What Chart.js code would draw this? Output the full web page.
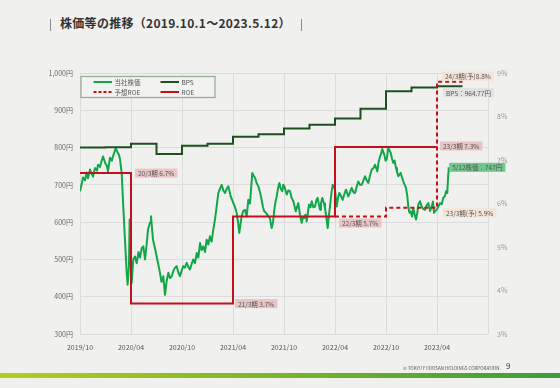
<!DOCTYPE html>
<html><head><meta charset="utf-8">
<script src="https://cdn.jsdelivr.net/npm/chart.js@4"></script>
<style>
html,body{margin:0;padding:0;background:#f0f0ee;width:560px;height:388px;overflow:hidden;font-family:'Noto Sans CJK JP',sans-serif;}
#wrap{position:relative;width:560px;height:388px;}
#title{position:absolute;left:60px;top:15px;font-size:12px;font-weight:bold;color:#333;line-height:16px;white-space:nowrap;letter-spacing:0.3px}
.bar{position:absolute;width:1px;height:12px;top:19px;background:#8a8a8a}
#c{position:absolute;left:0;top:0}
#foot{position:absolute;left:403px;top:365px;font-size:4.5px;color:#555;white-space:nowrap;line-height:6px}
#page{position:absolute;left:506px;top:361px;font-size:8px;color:#333;line-height:10px}
#gbar{position:absolute;left:0;top:373px;width:560px;height:5px;background:linear-gradient(90deg,#b6cd1a,#3c9c3c)}
</style></head>
<body><div id="wrap">
<div class="bar" style="left:50px"></div>
<div id="title">株価等の推移（2019.10.1～2023.5.12）</div>
<div class="bar" style="left:301px"></div>
<canvas id="c" width="560" height="388"></canvas>
<div id="foot">© TOKYU FUDOSAN HOLDINGS CORPORATION</div>
<div id="page">9</div>
<div id="gbar"></div>
</div>
<script>
// x values are months since 2019/10/1
const xTickLabels = ['2019/10','2020/04','2020/10','2021/04','2021/10','2022/04','2022/10','2023/04',''];

const stockMonths = [0,0.18,0.35,0.6,0.76,0.94,1.18,1.41,1.53,1.76,2.0,2.12,2.35,2.59,2.71,2.94,3.18,3.29,3.53,3.76,3.88,4.2,4.44,4.59,4.71,4.9,5.09,5.29,5.49,5.6,5.76,5.84,5.96,6.08,6.27,6.47,6.67,6.88,7.06,7.26,7.45,7.65,7.84,8.0,8.24,8.35,8.59,8.82,9.02,9.18,9.41,9.59,9.8,10.0,10.18,10.39,10.59,10.79,11.0,11.18,11.37,11.57,11.76,11.96,12.15,12.35,12.55,12.74,12.94,13.14,13.33,13.53,13.73,13.92,14.12,14.31,14.51,14.71,14.9,15.09,15.29,15.49,15.68,15.88,16.08,16.27,16.47,16.67,16.86,17.06,17.26,17.45,17.73,18.04,18.24,18.43,18.59,18.74,18.88,19.02,19.21,19.41,19.61,19.8,20.0,20.27,20.41,20.59,20.78,20.98,21.18,21.37,21.53,21.68,21.88,22.15,22.35,22.55,22.71,22.86,23.0,23.14,23.29,23.45,23.61,23.8,23.92,24.04,24.32,24.51,24.71,24.9,25.1,25.38,25.68,25.88,26.08,26.24,26.39,26.53,26.67,26.94,27.12,27.26,27.45,27.65,27.82,27.96,28.12,28.24,28.35,28.5,28.71,28.82,29.0,29.14,29.29,29.41,29.59,29.73,29.92,30.0,30.2,30.35,30.51,30.71,30.9,31.1,31.29,31.57,31.76,31.96,32.18,32.35,32.55,32.74,32.94,33.14,33.35,33.53,33.73,33.92,34.12,34.32,34.53,34.71,34.98,35.12,35.29,35.45,35.56,35.8,35.94,36.08,36.27,36.41,36.55,36.71,36.86,37.02,37.18,37.29,37.45,37.73,37.88,38.04,38.2,38.35,38.51,38.62,38.76,38.9,39.06,39.21,39.38,39.53,39.68,39.8,40.0,40.2,40.39,40.59,40.78,40.98,41.18,41.37,41.53,41.65,41.8,41.96,42.12,42.35,42.55,42.74,42.94,43.06,43.21,43.33,43.37];
const stockValues = [683,700,720,712,733,718,741,728,722,745,738,754,748,768,776,760,750,736,773,765,776,799,786,780,768,733,642,553,465,432,482,607,520,437,500,508,490,520,505,530,535,500,540,580,600,616,553,530,508,490,464,440,455,405,440,464,450,455,470,478,482,465,455,470,482,478,491,480,473,488,500,490,517,505,544,525,535,520,553,540,562,548,580,607,642,678,690,700,685,678,690,696,669,651,640,625,600,571,595,616,630,633,615,660,650,732,725,719,705,696,680,660,640,629,625,616,610,584,600,633,655,669,690,705,690,683,700,696,674,685,683,665,656,629,651,620,598,615,611,620,602,647,640,656,640,642,660,665,645,633,650,665,650,638,610,584,620,642,680,700,692,687,642,665,678,670,660,675,687,669,680,692,680,678,695,709,700,700,712,723,712,705,725,741,745,754,736,760,776,785,796,781,765,768,799,792,786,770,759,765,745,735,723,732,720,709,700,692,670,642,625,629,615,638,620,607,625,647,656,642,635,633,645,651,630,642,655,625,630,633,640,651,648,665,670,683,678,732,747];

const bpsMonths = [0,3,6,9,12,15,18,21,24,27,30,33,36,39,42,45];
const bpsValues = [800,801,810,783,805,810,829,836,851,861,878,904,951,961,964.77,964.77];

const roeMonths = [0,6,18,30,42];
const roeValues = [6.7,3.7,5.7,7.3,7.3];
const roeFY = ['20/3期','21/3期','22/3期','23/3期'];

const fcMonths = [30,36,42,45];
const fcValues = [5.7,5.9,8.8,8.8];
const fcFY = ['23/3期(予)','24/3期(予)'];

const latestLabel = '5/12株価';
const legendNames = ['当社株価','BPS','予想ROE','ROE'];

const FONT = '"Noto Sans CJK JP", sans-serif';
const C_STOCK = '#12a64a', C_BPS = '#1f4f1f', C_ROE = '#c3101a';

const pts = (xs, ys) => xs.map((x,i)=>({x, y: ys[i]}));

const overlay = {
  id: 'overlay',
  afterDatasetsDraw(chart){
    const ctx = chart.ctx, sx = chart.scales.x, yl = chart.scales.y, yr = chart.scales.y2;
    const ca = chart.chartArea;
    ctx.save();
    // legend
    const lx = ca.left + 1, ly = ca.top + 3.5, lw = 134, lh = 21;
    ctx.fillStyle = '#f2f2f0';
    ctx.fillRect(lx, ly, lw, lh);
    ctx.strokeStyle = '#98b098'; ctx.lineWidth = 1.3;
    ctx.strokeRect(lx, ly, lw, lh);
    const items = [
      {t: legendNames[0], c: C_STOCK, d: [], col: 0, row: 0},
      {t: legendNames[1], c: C_BPS, d: [], col: 1, row: 0},
      {t: legendNames[2], c: C_ROE, d: [3,2], col: 0, row: 1},
      {t: legendNames[3], c: C_ROE, d: [], col: 1, row: 1},
    ];
    ctx.font = '6.5px ' + FONT;
    ctx.textBaseline = 'middle'; ctx.textAlign = 'left';
    items.forEach(it => {
      const x0 = lx + 12.5 + it.col * 67, y0 = ly + 5.5 + it.row * 10;
      ctx.strokeStyle = it.c; ctx.lineWidth = 2; ctx.setLineDash(it.d);
      ctx.beginPath(); ctx.moveTo(x0, y0); ctx.lineTo(x0 + 18.5, y0); ctx.stroke();
      ctx.setLineDash([]);
      ctx.fillStyle = '#555';
      ctx.fillText(it.t, x0 + 21, y0 + 0.5);
    });
    // value labels
    function box(text, left, cy, bg){
      const w = ctx.measureText(text).width + 6, h = 9;
      ctx.fillStyle = bg; ctx.fillRect(left, cy - h/2, w, h);
      ctx.fillStyle = '#555';
      ctx.fillText(text, left + 3, cy + 0.5);
    }
    const pink = '#e8c5c4', peach = '#f3e2d6', grey = '#e2e2e0', green = '#72c68e';
    box(roeFY[0] + ' ' + roeValues[0].toFixed(1) + '%', sx.getPixelForValue(roeMonths[1]) + 4, yr.getPixelForValue(roeValues[0]), pink);
    box(roeFY[1] + ' ' + roeValues[1].toFixed(1) + '%', sx.getPixelForValue(roeMonths[2]) + 2, yr.getPixelForValue(roeValues[1]), pink);
    box(roeFY[2] + ' ' + roeValues[2].toFixed(1) + '%', sx.getPixelForValue(roeMonths[3]) + 4, yr.getPixelForValue(roeValues[2]) + 6.5, pink);
    box(roeFY[3] + ' ' + roeValues[3].toFixed(1) + '%', sx.getPixelForValue(roeMonths[4]) + 3, yr.getPixelForValue(roeValues[3]) - 1, pink);
    box(fcFY[1] + fcValues[2].toFixed(1) + '%', sx.getPixelForValue(fcMonths[2]) + 5, yr.getPixelForValue(fcValues[2]) - 5.5, peach);
    box(fcFY[0] + ' ' + fcValues[1].toFixed(1) + '%', sx.getPixelForValue(fcMonths[2]) + 6, yr.getPixelForValue(fcValues[1]) + 5, peach);
    const lastB = bpsValues[bpsValues.length - 1];
    box('BPS：' + lastB.toFixed(2) + '円', sx.getPixelForValue(bpsMonths[bpsMonths.length - 2]) + 6, yl.getPixelForValue(lastB) + 6.5, grey);
    const lastS = stockValues[stockValues.length - 1];
    box(latestLabel + '：' + lastS + '円', sx.getPixelForValue(stockMonths[stockMonths.length - 1]) + 0.5, yl.getPixelForValue(lastS), green);
    ctx.restore();
  }
};

new Chart(document.getElementById('c'), {
  type: 'line',
  data: {
    datasets: [
      {label: 'ROE', data: pts(roeMonths, roeValues), yAxisID: 'y2', borderColor: C_ROE, borderWidth: 2, stepped: true, pointRadius: 0, fill: false},
      {label: '予想ROE', data: pts(fcMonths, fcValues), yAxisID: 'y2', borderColor: C_ROE, borderWidth: 2, borderDash: [4,3], stepped: true, pointRadius: 0, fill: false},
      {label: 'BPS', data: pts(bpsMonths, bpsValues), yAxisID: 'y', borderColor: C_BPS, borderWidth: 2, stepped: true, pointRadius: 0, fill: false},
      {label: '当社株価', data: pts(stockMonths, stockValues), yAxisID: 'y', borderColor: C_STOCK, borderWidth: 2, pointRadius: 0, tension: 0, fill: false, borderJoinStyle: 'round'},
    ]
  },
  options: {
    responsive: false, animation: false,
    layout: {padding: {top: 73, left: 0, right: 0, bottom: 0}},
    plugins: {legend: {display: false}, tooltip: {enabled: false}},
    scales: {
      x: {
        type: 'linear', min: 0, max: 48,
        afterFit(s){ s.height = 54; },
        afterBuildTicks(s){ s.ticks = xTickLabels.map((_, i) => ({value: i * 6})); },
        ticks: {callback: (v) => xTickLabels[Math.round(v / 6)] ?? '', font: {size: 7, family: FONT}, color: '#555', padding: 9, maxRotation: 0, autoSkip: false},
        grid: {color: '#dcdcdc', lineWidth: 1, drawTicks: false},
        border: {display: false}
      },
      y: {
        position: 'left', min: 300, max: 1000,
        afterFit(s){ s.width = 80; },
        ticks: {stepSize: 100, callback: (v) => v.toLocaleString('en-US') + '円', font: {size: 7, family: FONT}, color: '#666', padding: 7},
        grid: {color: '#dcdcdc', lineWidth: 1, drawTicks: false},
        border: {display: false}
      },
      y2: {
        position: 'right', min: 3, max: 9,
        afterFit(s){ s.width = 72; },
        ticks: {stepSize: 1, callback: (v) => v + '%', font: {size: 7, family: FONT}, color: '#9a9a9a', padding: 9},
        grid: {drawOnChartArea: false, drawTicks: false},
        border: {display: false}
      }
    }
  },
  plugins: [overlay]
});
</script>
</body></html>
